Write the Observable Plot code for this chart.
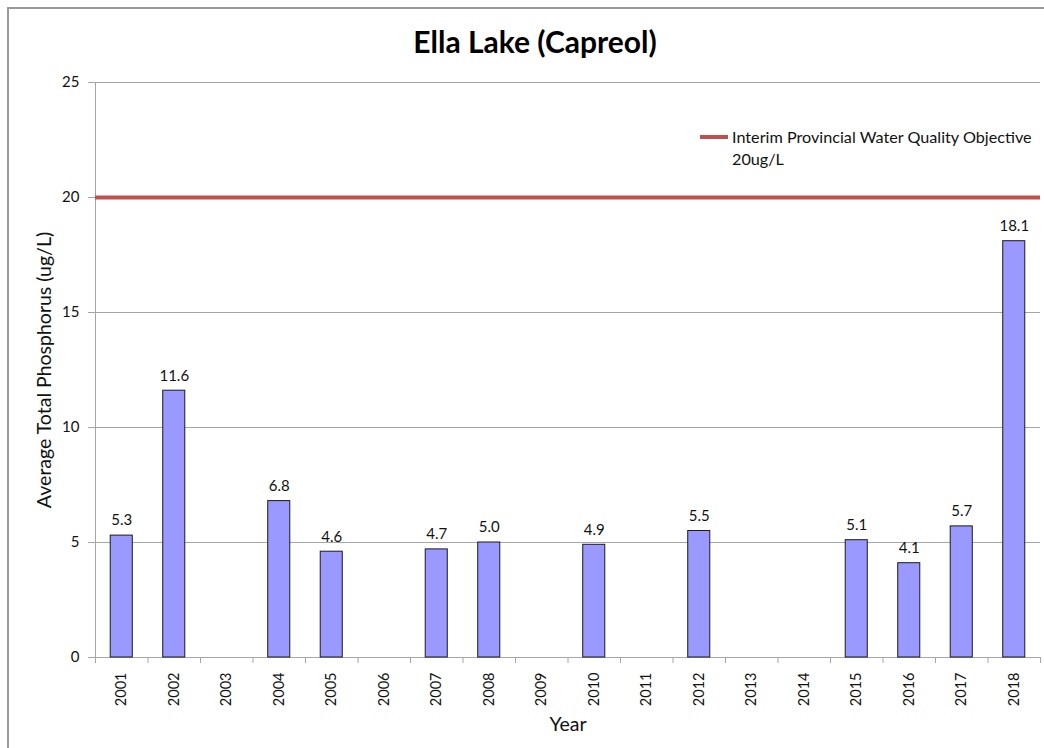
<!DOCTYPE html>
<html>
<head>
<meta charset="utf-8">
<script src="https://cdn.jsdelivr.net/npm/d3@7"></script>
<script src="https://cdn.jsdelivr.net/npm/@observablehq/plot@0.6"></script>
<style>
  body { margin: 0; background: #fff; font-family: Lato, "Open Sans", sans-serif; }
  #wrap { position: relative; width: 1044px; height: 748px; overflow: hidden; }
  #frame { position: absolute; left: 7px; top: 7px; width: 1100px; height: 800px;
           border-left: 2px solid #9a9a9a; border-top: 2px solid #9a9a9a; box-sizing: border-box; }
  #legend { position: absolute; left: 700px; top: 126px; font-size: 16.2px; line-height: 22px; color: #111; }
  #legend .sw { position: absolute; left: 0; top: 9px; width: 28px; height: 4px; background: #c0504d; }
  #legend .tx { position: absolute; left: 32px; top: 0; white-space: nowrap; }
  #chart { position: absolute; left: 0; top: 0; }
</style>
</head>
<body>
<div id="wrap">
  <div id="frame"></div>
  <div id="chart"></div>
  <div id="legend"><div class="sw"></div><div class="tx">Interim Provincial Water Quality Objective<br>20ug/L</div></div>
</div>
<script>
const years = ["2001","2002","2003","2004","2005","2006","2007","2008","2009","2010","2011","2012","2013","2014","2015","2016","2017","2018"];
const barYears = ["2001","2002","2004","2005","2007","2008","2010","2012","2015","2016","2017","2018"];
const barValues = [5.3, 11.6, 6.8, 4.6, 4.7, 5.0, 4.9, 5.5, 5.1, 4.1, 5.7, 18.1];
const yTicks = [0, 5, 10, 15, 20, 25];
const objective = 20;
const title = "Ella Lake (Capreol)";
const yLabel = "Average Total Phosphorus (ug/L)";
const xLabel = "Year";

const data = barYears.map((y, i) => ({year: y, value: barValues[i]}));

const W = 1044, H = 748, mL = 95, mR = 4, mT = 82, mB = 91;
const step = (W - mL - mR) / years.length;
const grid = "#a6a6a6";

const chart = Plot.plot({
  width: W, height: H,
  marginLeft: mL, marginRight: mR, marginTop: mT, marginBottom: mB,
  style: {fontFamily: "Lato, 'Open Sans', sans-serif", background: "transparent", color: "#111"},
  x: {type: "band", domain: years, paddingInner: 0.58, paddingOuter: 0.29, round: false, label: null},
  y: {domain: [0, 25], label: null},
  marks: [
    Plot.gridY(yTicks, {stroke: grid, strokeOpacity: 1, strokeWidth: 1}),
    Plot.ruleX([years[0]], {dx: -step / 2, stroke: grid, strokeWidth: 1}),
    Plot.axisY(yTicks, {tickSize: 7, stroke: grid, tickPadding: 9, fontSize: 15, fill: "#111"}),
    Plot.axisX({tickSize: 0, tickRotate: -90, tickPadding: 15, fontSize: 14.5, fill: "#111"}),
    Plot.axisX({tickSize: 6, text: null, dx: -step / 2, stroke: grid}),
    Plot.axisX([years[years.length - 1]], {tickSize: 6, text: null, dx: step / 2, stroke: grid}),
    Plot.ruleY([0], {stroke: grid, strokeWidth: 1}),
    Plot.barY(data, {x: "year", y: "value", fill: "#9999ff", stroke: "#1a1a1a", strokeWidth: 1}),
    Plot.text(data, {x: "year", y: "value", text: d => d.value.toFixed(1), dy: -15, fontSize: 15, fill: "#111"}),
    Plot.ruleY([objective], {stroke: "#c0504d", strokeWidth: 4}),
    Plot.text([title], {frameAnchor: "top", lineAnchor: "middle", dy: -39, dx: -33, fontSize: 30, fontWeight: "bold", fill: "#000"}),
    Plot.text([yLabel], {frameAnchor: "left", textAnchor: "middle", lineAnchor: "middle", dx: -51, rotate: -90, fontSize: 19.5, fill: "#111"}),
    Plot.text([xLabel], {frameAnchor: "bottom", lineAnchor: "middle", dy: 67, fontSize: 19.5, fill: "#111"})
  ]
});
document.getElementById("chart").appendChild(chart);
</script>
</body>
</html>
